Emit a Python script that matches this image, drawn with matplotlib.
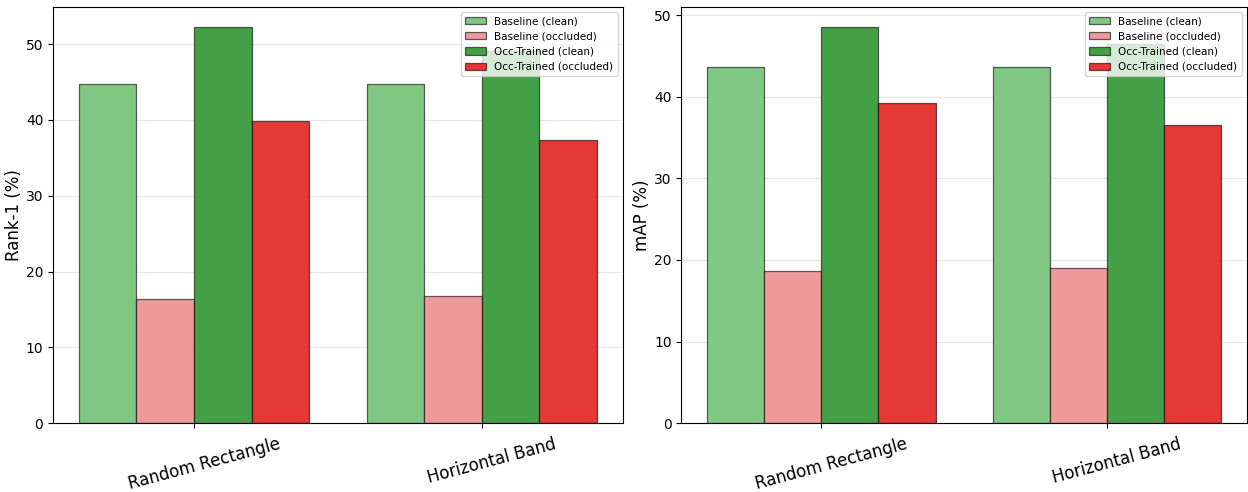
import numpy as np
import matplotlib
matplotlib.use("Agg")
import matplotlib.pyplot as plt
from matplotlib.transforms import ScaledTranslation

occlusions = ["Random Rectangle", "Horizontal Band"]
series = ["Baseline (clean)", "Baseline (occluded)", "Occ-Trained (clean)", "Occ-Trained (occluded)"]
colors = ["#81c784", "#ef9a9a", "#43a047", "#e53935"]

rank1_base_clean = [44.7, 44.7]
rank1_base_occ = [16.4, 16.8]
rank1_occ_clean = [52.3, 49.1]
rank1_occ_occ = [39.9, 37.3]

map_base_clean = [43.6, 43.6]
map_base_occ = [18.7, 19.0]
map_occ_clean = [48.6, 46.5]
map_occ_occ = [39.2, 36.6]

fig = plt.figure(figsize=(12.48, 4.92), dpi=100)
ax1 = fig.add_axes([0.0425, 0.140, 0.4565, 0.846])
ax2 = fig.add_axes([0.546, 0.140, 0.453, 0.846])

x = np.arange(len(occlusions))
width = 0.2


def draw(ax, vals, ylabel):
    for i, (v, name, c) in enumerate(zip(vals, series, colors)):
        ax.bar(x + (i - 1.5) * width, v, width, label=name, color=c,
               edgecolor=(0, 0, 0, 0.6), linewidth=0.9)
    ax.set_ylabel(ylabel, fontsize=12, labelpad=2)
    ax.set_xticks(x)
    ax.set_xticklabels(occlusions, rotation=15, fontsize=12)
    # nudge the rotated labels a bit to the right like the original
    for lbl in ax.get_xticklabels():
        lbl.set_transform(lbl.get_transform() + ScaledTranslation(0.1, -0.02, fig.dpi_scale_trans))
    ax.grid(axis="y", alpha=0.3)
    ax.set_axisbelow(True)
    ax.legend(loc="upper right", fontsize=7.5)


draw(ax1, [rank1_base_clean, rank1_base_occ, rank1_occ_clean, rank1_occ_occ], "Rank-1 (%)")
draw(ax2, [map_base_clean, map_base_occ, map_occ_clean, map_occ_occ], "mAP (%)")

plt.savefig("out.png", dpi=100)
